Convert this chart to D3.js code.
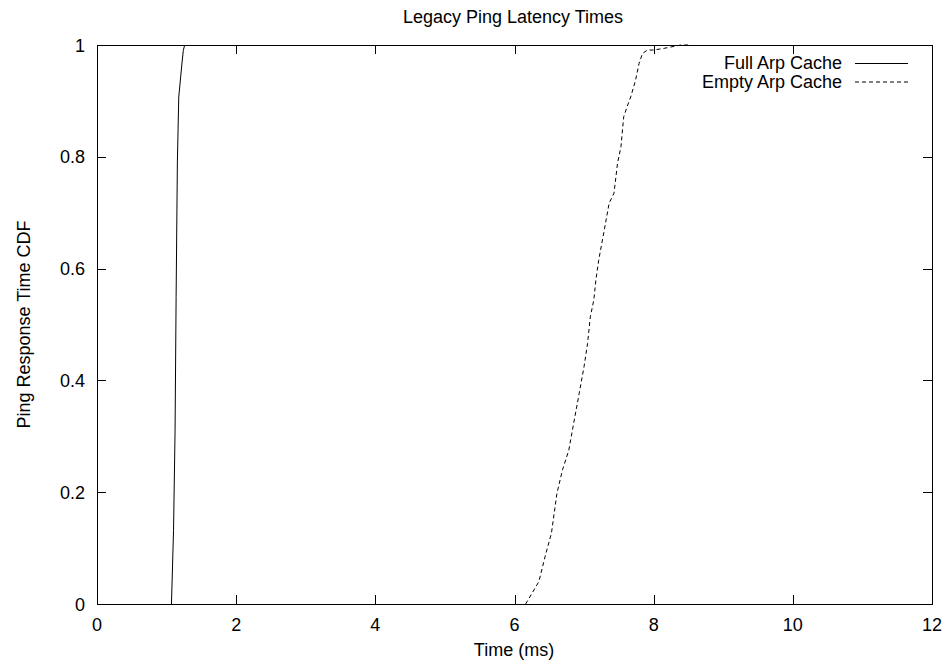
<!DOCTYPE html>
<html>
<head>
<meta charset="utf-8">
<script src="https://cdn.jsdelivr.net/npm/d3@7"></script>
<style>
  body { margin: 0; background: #fff; }
  text { font-family: "Liberation Sans", Arial, sans-serif; fill: #000; }
</style>
</head>
<body>
<div id="chart"></div>
<script>
// Data (x = time in ms, y = CDF)
var fullX = [1.07, 1.10, 1.122, 1.137, 1.155, 1.175, 1.22, 1.24, 1.26];
var fullY = [0, 0.132, 0.311, 0.55, 0.789, 0.907, 0.966, 0.99, 1.0];

var emptyX = [6.16, 6.18, 6.35, 6.45, 6.53, 6.61, 6.69, 6.78, 6.85, 6.93, 7.0, 7.05, 7.09, 7.14,
  7.17, 7.21, 7.29, 7.36, 7.43, 7.48, 7.53, 7.57, 7.62, 7.67, 7.74, 7.79, 7.84, 7.91, 8.0, 8.15, 8.39, 8.5];
var emptyY = [0, 0.004, 0.04, 0.09, 0.126, 0.198, 0.24, 0.275, 0.323, 0.377, 0.425, 0.466, 0.514, 0.544,
  0.58, 0.615, 0.669, 0.717, 0.735, 0.788, 0.818, 0.872, 0.89, 0.907, 0.937, 0.967, 0.985, 0.991, 0.991, 0.994, 1.0, 1.0];

var xTicks = [0, 2, 4, 6, 8, 10, 12];
var yTicks = [0, 0.2, 0.4, 0.6, 0.8, 1];
var seriesNames = ["Full Arp Cache", "Empty Arp Cache"];

function init() {
  var w = 948, h = 667;
  var pLeft = 97, pRight = 932, pTop = 45, pBottom = 604;
  var fs = "18px";

  var svg = d3.select("#chart").append("svg")
    .attr("width", w).attr("height", h);

  var x = d3.scaleLinear().domain([0, 12]).range([pLeft, pRight]);
  var y = d3.scaleLinear().domain([0, 1]).range([pBottom, pTop]);

  var tickLen = 9;

  // ticks (inside, mirrored)
  var g = svg.append("g").attr("stroke", "#000").attr("stroke-width", 1);
  xTicks.forEach(function (t) {
    var px = Math.round(x(t)) + 0.5;
    g.append("line").attr("x1", px).attr("x2", px).attr("y1", pBottom).attr("y2", pBottom - tickLen);
    g.append("line").attr("x1", px).attr("x2", px).attr("y1", pTop).attr("y2", pTop + tickLen);
  });
  yTicks.forEach(function (t) {
    var py = Math.round(y(t)) + 0.5;
    g.append("line").attr("x1", pLeft).attr("x2", pLeft + tickLen).attr("y1", py).attr("y2", py);
    g.append("line").attr("x1", pRight).attr("x2", pRight - tickLen).attr("y1", py).attr("y2", py);
  });

  // frame
  svg.append("rect")
    .attr("x", pLeft + 0.5).attr("y", pTop + 0.5)
    .attr("width", pRight - pLeft).attr("height", pBottom - pTop)
    .attr("fill", "none").attr("stroke", "#000").attr("stroke-width", 1);

  // tick labels
  svg.selectAll(".xt").data(xTicks).enter().append("text")
    .attr("x", function (d) { return x(d); })
    .attr("y", 631)
    .attr("text-anchor", "middle")
    .attr("font-size", fs)
    .text(function (d) { return d; });

  svg.selectAll(".yt").data(yTicks).enter().append("text")
    .attr("x", 85)
    .attr("y", function (d) { return y(d) + 6.5; })
    .attr("text-anchor", "end")
    .attr("font-size", fs)
    .text(function (d) { return d; });

  // titles
  svg.append("text").attr("x", 513).attr("y", 23).attr("text-anchor", "middle")
    .attr("font-size", fs).text("Legacy Ping Latency Times");
  svg.append("text").attr("x", 514).attr("y", 656).attr("text-anchor", "middle")
    .attr("font-size", fs).text("Time (ms)");
  svg.append("text").attr("transform", "translate(30," + ((pTop + pBottom) / 2) + ") rotate(-90)")
    .attr("text-anchor", "middle").attr("font-size", fs).text("Ping Response Time CDF");

  // lines
  var line = d3.line()
    .x(function (d) { return x(d[0]); })
    .y(function (d) { return y(d[1]); });

  svg.append("path")
    .datum(d3.zip(fullX, fullY))
    .attr("d", line)
    .attr("fill", "none").attr("stroke", "#000").attr("stroke-width", 1);

  svg.append("path")
    .datum(d3.zip(emptyX, emptyY))
    .attr("d", line)
    .attr("fill", "none").attr("stroke", "#000").attr("stroke-width", 1)
    .attr("stroke-dasharray", "4,3");

  // legend
  var dashes = [null, "4,3"];
  seriesNames.forEach(function (name, i) {
    var ly = 63.5 + i * 18.5;
    svg.append("text").attr("x", 842).attr("y", ly + 5.5).attr("text-anchor", "end")
      .attr("font-size", fs).text(name);
    svg.append("line").attr("x1", 855).attr("x2", 908).attr("y1", ly).attr("y2", ly)
      .attr("stroke", "#000").attr("stroke-width", 1)
      .attr("stroke-dasharray", dashes[i]);
  });
}

init();
</script>
</body>
</html>
